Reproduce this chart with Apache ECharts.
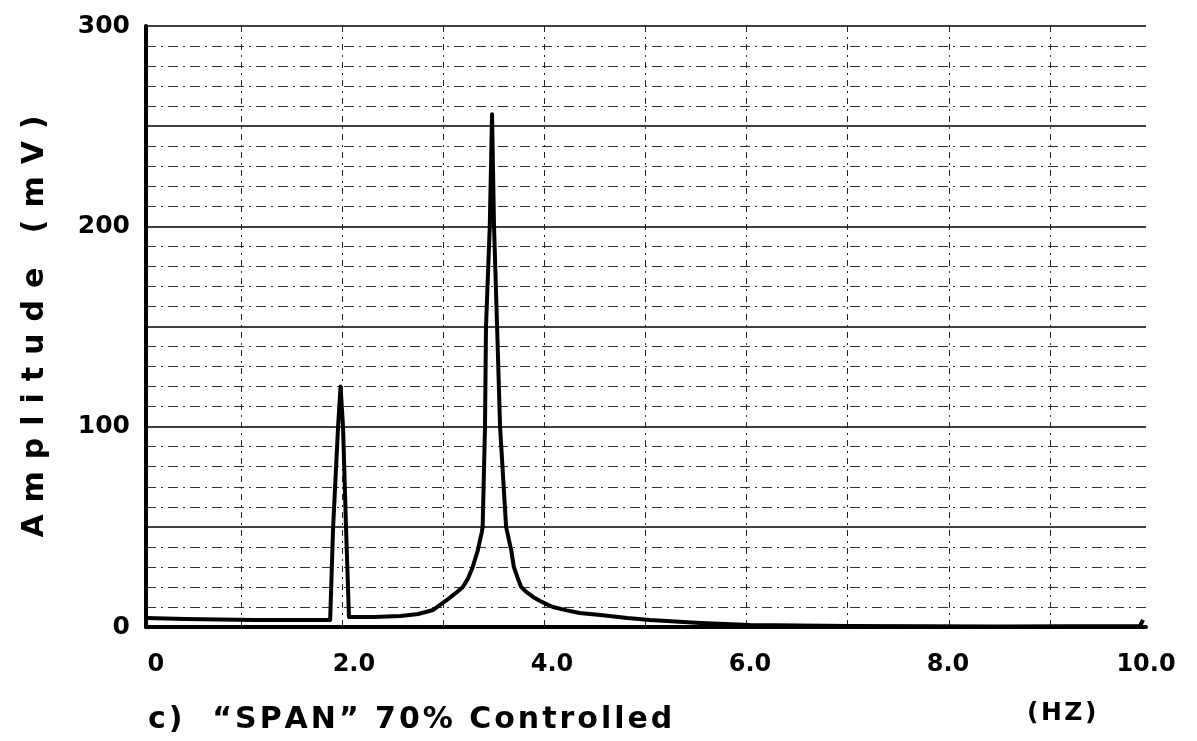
<!DOCTYPE html>
<html>
<head>
<meta charset="utf-8">
<script src="https://cdn.jsdelivr.net/npm/echarts@6/dist/echarts.min.js"></script>
<style>
  html, body { margin: 0; padding: 0; background: #fff; }
  #chart { width: 1197px; height: 741px; }
</style>
</head>
<body>
<div id="chart"></div>
<script>
  // spectrum (frequency in Hz, amplitude in mV)
  var freqHz = [-0.1, 0.3, 1.0, 1.76, 1.79, 1.84, 1.865, 1.89, 1.92, 1.95,
    2.2, 2.47, 2.65, 2.80, 2.94, 3.03, 3.10, 3.15, 3.20, 3.25,
    3.29, 3.30, 3.324, 3.334, 3.372, 3.395, 3.415, 3.446, 3.476, 3.537,
    3.59, 3.615, 3.65, 3.689, 3.74, 3.81, 3.88, 3.95, 4.01, 4.15,
    4.28, 4.49, 4.76, 4.99, 5.5, 6.0, 7.0, 8.5, 9.94, 9.97];
  var amplitude = [4.5, 4, 3.5, 3.5, 50, 100, 120, 100, 50, 5,
    5, 5.5, 6.5, 8.5, 13.5, 17, 20, 24, 30, 38,
    47, 50, 100, 150, 200, 256, 200, 150, 100, 50,
    38, 30, 25, 20, 17.5, 15, 13, 11.3, 10, 8.3,
    7, 6, 4.5, 3.5, 2, 1, 0.5, 0.3, 0.5, 3.5];

  var xTickValues = [0, 2, 4, 6, 8, 10];
  var xTickLabels = ['0', '2.0', '4.0', '6.0', '8.0', '10.0'];
  var yTickValues = [0, 100, 200, 300];

  var yTitle = 'Amplitude (mV)';
  var caption = 'c)  “SPAN” 70% Controlled';
  var unitLabel = '(HZ)';

  var FONT = 'DejaVu Sans';

  function spaced(s, sep) {
    return s.split('').join(sep);
  }

  var chart = echarts.init(document.getElementById('chart'));

  var option = {
    backgroundColor: '#fff',
    animation: false,
    grid: [
      { left: 146, right: 51, top: 26, bottom: 114 },
      // paper grid for the vertical lines, slightly off the labelled scale
      { left: 140, right: 46, top: 26, bottom: 114 }
    ],
    xAxis: [{
      gridIndex: 0,
      type: 'value',
      min: -0.1,
      max: 10,
      axisLine: { onZero: false, lineStyle: { color: '#000', width: 4 } },
      axisTick: { show: false },
      splitLine: { show: false },
      axisLabel: {
        customValues: xTickValues,
        formatter: function (v) {
          return xTickLabels[xTickValues.indexOf(v)];
        },
        margin: 26,
        color: '#000',
        fontFamily: FONT,
        fontWeight: 'bold',
        fontSize: 24
      }
    }, {
      gridIndex: 1,
      type: 'value',
      min: 0,
      max: 10,
      interval: 1,
      axisLine: { show: false },
      axisTick: { show: false },
      axisLabel: { show: false },
      splitLine: {
        show: true,
        showMinLine: false,
        showMaxLine: false,
        lineStyle: { color: '#222', width: 1, type: [6, 5, 2, 5] }
      }
    }],
    yAxis: [{
      gridIndex: 0,
      type: 'value',
      min: 0,
      max: 300,
      interval: 50,
      name: spaced(yTitle, '\u2009\u2009'),
      nameLocation: 'middle',
      nameGap: 96,
      nameTextStyle: {
        color: '#000',
        fontFamily: FONT,
        fontWeight: 'bold',
        fontSize: 30
      },
      axisLine: { show: true, onZero: false, lineStyle: { color: '#000', width: 4 } },
      axisTick: { show: false },
      axisLabel: {
        customValues: yTickValues,
        margin: 16,
        color: '#000',
        fontFamily: FONT,
        fontWeight: 'bold',
        fontSize: 25
      },
      splitLine: { show: true, lineStyle: { color: '#000', width: 1.5 } },
      minorTick: { show: false, splitNumber: 5 },
      minorSplitLine: {
        show: true,
        lineStyle: { color: '#333', width: 1, type: [10, 5, 2, 5] }
      }
    }, {
      gridIndex: 1,
      type: 'value',
      min: 0,
      max: 300,
      show: false
    }],
    graphic: [{
      type: 'text',
      left: 148,
      top: 705,
      style: {
        text: spaced(caption, '\u200a'),
        fill: '#000',
        font: 'bold 30px "DejaVu Sans"'
      }
    }, {
      type: 'text',
      left: 1027,
      top: 701,
      style: {
        text: spaced(unitLabel, '\u200a'),
        fill: '#000',
        font: 'bold 25px "DejaVu Sans"'
      }
    }],
    series: [{
      type: 'line',
      xAxisIndex: 0,
      yAxisIndex: 0,
      showSymbol: false,
      data: freqHz.map(function (f, i) { return [f, amplitude[i]]; }),
      lineStyle: { color: '#000', width: 4, join: 'round' },
      z: 5
    }]
  };

  chart.setOption(option);
</script>
</body>
</html>
